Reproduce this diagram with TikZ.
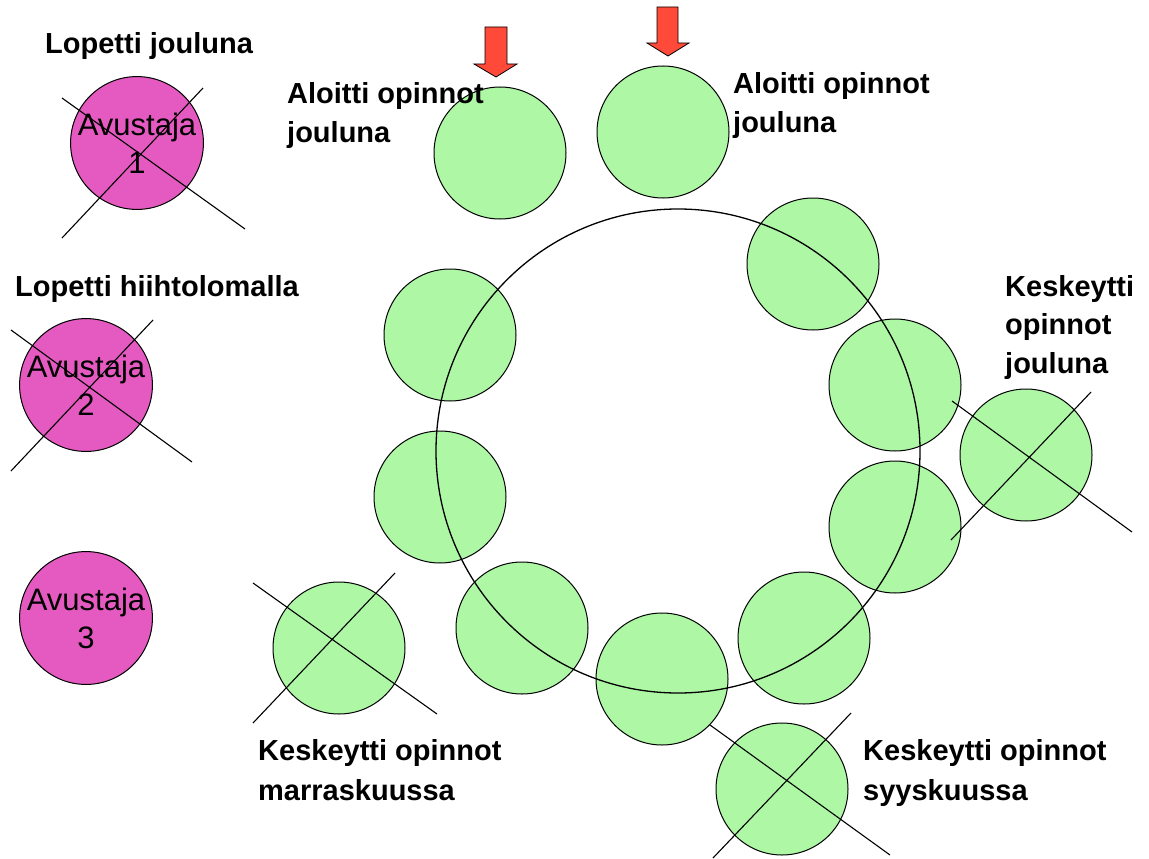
\documentclass[tikz,border=0pt]{standalone}
\usepackage{fontspec}
\setmainfont{Liberation Sans}
\begin{document}
\begin{tikzpicture}[x=1pt,y=-1pt,
  ball/.style={circle,draw=black,line width=1pt,inner sep=0pt,minimum size=132pt},
  greenball/.style={ball,fill=ballgreen},
  pinkball/.style={ball,fill=ballpink,align=center,font=\fontsize{31}{38}\selectfont},
  strike/.style={draw=black,line width=1.1pt},
  ringline/.style={draw=black,line width=1.3pt},
  lbl/.style={anchor=base west,inner sep=0pt,align=left,font=\bfseries\fontsize{29}{38.5}\selectfont},
  lblb/.style={lbl,font=\bfseries\fontsize{29}{40}\selectfont},
  arrowshape/.style={fill=arrowred,draw=black,line width=0.8pt}
]
\definecolor{ballgreen}{RGB}{173,247,165}
\definecolor{ballpink}{RGB}{228,90,192}
\definecolor{arrowred}{RGB}{255,74,58}
\useasboundingbox[fill=white] (0,0) rectangle (1149,859);

% pink assistant circles
\node[pinkball] (a1) at (137,143) {Avustaja\\1};
\node[pinkball] (a2) at (86,385) {Avustaja\\2};
\node[pinkball] (a3) at (86,618) {Avustaja\\3};

% green circles
\node[greenball] (g1) at (500,153) {};
\node[greenball] (g2) at (663,132) {};
\node[greenball] (r1) at (813,264) {};
\node[greenball] (r2) at (895,385) {};
\node[greenball] (r3) at (895,527) {};
\node[greenball] (r4) at (804,638) {};
\node[greenball] (r5) at (662,679) {};
\node[greenball] (r6) at (522,628) {};
\node[greenball] (r7) at (440,497) {};
\node[greenball] (r8) at (450,335) {};
\node[greenball] (x1) at (1026,455) {};
\node[greenball] (x2) at (782,789) {};
\node[greenball] (x3) at (339,648) {};

% big ring
\coordinate (ringc) at (678,451);
\draw[ringline] (ringc) circle[radius=242pt];

% strike-through crosses
\draw[strike] (62,98) -- (245,229) (203,88) -- (62,238);
\draw[strike] (11,330) -- (192,462) (153,320) -- (11,471);
\draw[strike] (952,401) -- (1132,532) (1091,392) -- (951,540);
\draw[strike] (710,725) -- (890,855) (851,713) -- (713,858);
\draw[strike] (253,583) -- (437,714) (395,573) -- (253,723);

% red arrows
\draw[arrowshape] (485,27) -- (507,27) -- (507,64) -- (517,64) -- (496,77) -- (474,64) -- (485,64) -- cycle;
\draw[arrowshape] (657,7) -- (678,7) -- (678,43) -- (689,43) -- (668,56) -- (647,43) -- (657,43) -- cycle;

% labels (anchor at baseline of last line)
\node[lbl] (t1) at (45,54) {Lopetti jouluna};
\node[lbl] (t2) at (15,296) {Lopetti hiihtolomalla};
\node[lbl] (t3) at (287,142) {Aloitti opinnot\\jouluna};
\node[lbl] (t4) at (733,132) {Aloitti opinnot\\jouluna};
\node[lbl] (t5) at (1005,373) {Keskeytti\\opinnot\\jouluna};
\node[lblb] (t6) at (863,800) {Keskeytti opinnot\\syyskuussa};
\node[lblb] (t7) at (258,800) {Keskeytti opinnot\\marraskuussa};
\end{tikzpicture}
\end{document}
